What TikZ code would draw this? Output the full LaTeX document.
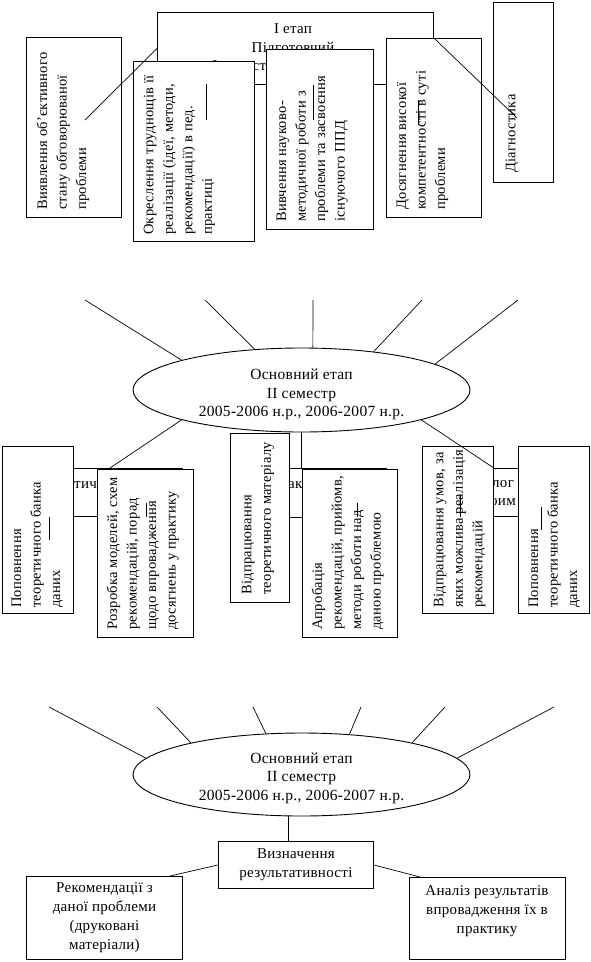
\documentclass[tikz,border=0pt]{standalone}
\usepackage{fontspec}
\setmainfont[LetterSpace=2]{Liberation Serif}
\usetikzlibrary{shapes.geometric,calc}
\newcommand\rotfnt{\fontsize{14.5}{19.5}\selectfont}
\newcommand\horfnt{\fontsize{15}{19}\selectfont}
\newcommand\ovlfnt{\fontsize{15.5}{18.5}\selectfont}
\begin{document}
\begin{tikzpicture}[x=1pt,y=-1pt,
  ln/.style={line width=0.7pt},
  box/.style={draw, fill=white, line width=0.9pt, inner sep=0pt, anchor=north west},
  vt/.style={rotate=90, anchor=north west, align=left, inner sep=0pt, font=\rotfnt},
  ht/.style={align=center, inner sep=0pt, font=\horfnt},
  frag/.style={anchor=west, inner sep=0pt, font=\horfnt},
  oval/.style={draw, ellipse, line width=0.9pt, fill=white, inner sep=0pt, minimum width=337pt, minimum height=84pt},
]
\useasboundingbox (0,0) rectangle (590,962);
\fill[white] (0,0) rectangle (590,962);

%% ---------- top section ----------
\node[box, minimum width=276pt, minimum height=72pt] (big) at (157,12) {};
\node[ht, font=\fontsize{15}{18.5}\selectfont] (bigtxt) at (293,49) {I етап\\Підготовчий\\I семестр 2005-2006 н.р.};

\node[box, minimum width=95pt,  minimum height=180pt] (bA) at (26,37) {};
\node[box, minimum width=121pt, minimum height=180pt] (bB) at (133,61) {};
\node[box, minimum width=107pt, minimum height=180pt] (bC) at (266,49) {};
\node[box, minimum width=95pt,  minimum height=179pt] (bD) at (386,38) {};
\node[box, minimum width=60pt,  minimum height=180pt] (bE) at (493,2) {};

\node[vt] (tA) at (36.5,210) {Виявлення об’єктивного\\стану обговорюваної\\проблеми};
\node[vt] (tB) at (143.5,235) {Окреслення труднощів її\\реалізації (ідеї, методи,\\рекомендації) в пед.\\практиці};
\node[vt] (tC) at (276.5,222) {Вивчення науково-\\методичної роботи з\\проблеми та засвоєння\\існуючого ППД};
\node[vt] (tD) at (396.5,210) {Досягнення високої\\компетентності в суті\\проблеми};
\node[vt] (tE) at (505.5,173) {Діагностика};

\coordinate (s1a) at (206,84); \coordinate (s1b) at (206,120);
\coordinate (s2a) at (313,85); \coordinate (s2b) at (313,120);
\coordinate (s3a) at (418,100); \coordinate (s3b) at (418,125);
\draw[ln] (s1a) -- (s1b);
\draw[ln] (s2a) -- (s2b);
\draw[ln] (s3a) -- (s3b);

\coordinate (pA) at (85,120);
\coordinate (pE) at (517,118);
\draw[ln] (pA) -- (big.west);
\draw[ln] (big.east |- bD.north) -- (pE);

%% ---------- middle section ----------
\node[oval] (e2) at (301.5,390) {};
\node[ht, font=\ovlfnt] (e2txt) at (301.5,394.5) {Основний етап\\II семестр\\2005-2006 н.р., 2006-2007 н.р.};

\coordinate (m1) at (85,300);
\coordinate (m2) at (205,300);
\coordinate (m3) at (313,300);
\coordinate (m4) at (422,300);
\coordinate (m5) at (518,300);
\draw[ln] (m1) -- (e2.166);
\draw[ln] (m2) -- (e2.139);
\draw[ln] (m3) -- (e2.75);
\draw[ln] (m4) -- (e2.28);
\draw[ln] (m5) -- (e2.11);

% partly hidden boxes
\node[box, minimum width=162pt, minimum height=48pt] (hid1) at (20,468) {};
\node[box, minimum width=146pt, minimum height=49pt] (hid2) at (240,468) {};
\node[box, minimum width=130pt, minimum height=48pt] (hid3) at (430,468) {};
\node[frag] (f1) at (74,485) {тич};
\node[frag] (f2) at (288,485) {ак};
\node[frag] (f3) at (492,484) {лог};
\node[frag] (f4) at (490,502) {оим};

% front boxes
\node[box, minimum width=71pt, minimum height=167pt] (pL) at (2,446) {};
\node[box, minimum width=96pt, minimum height=168pt] (rozr) at (97,469) {};
\node[box, minimum width=59pt, minimum height=169pt] (vteor) at (230,433) {};
\node[box, minimum width=95pt, minimum height=168pt] (aprob) at (302,469) {};
\node[box, minimum width=71pt, minimum height=167pt] (vumov) at (422,446) {};
\node[box, minimum width=71pt, minimum height=167pt] (pR) at (518,446) {};

\node[vt] (tpL) at (11.5,608) {Поповнення\\теоретичного банка\\даних};
\node[vt] (trozr) at (106.5,630) {Розробка моделей, схем\\рекомендацій, порад\\щодо впровадження\\досягнень у практику};
\node[vt] (tvteor) at (241.5,595) {Відпрацювання\\теоретичного матеріалу};
\node[vt] (taprob) at (311.5,630) {Апробація\\рекомендацій, прийомв,\\методи роботи над\\даною проблемою};
\node[vt] (tvumov) at (433.5,608) {Відпрацювання умов, за\\яких можлива реалізація\\рекомендацій};
\node[vt] (tpR) at (528.5,608) {Поповнення\\теоретичного банка\\даних};

\coordinate (u1a) at (49,517); \coordinate (u1b) at (49,540);
\coordinate (u2a) at (146,503); \coordinate (u2b) at (146,517);
\coordinate (u3a) at (357,503); \coordinate (u3b) at (357,517);
\coordinate (u4a) at (460,495); \coordinate (u4b) at (460,517);
\coordinate (u5a) at (541,507); \coordinate (u5b) at (541,530);
\draw[ln] (u1a) -- (u1b);
\draw[ln] (u2a) -- (u2b);
\draw[ln] (u3a) -- (u3b);
\draw[ln] (u4a) -- (u4b);
\draw[ln] (u5a) -- (u5b);

\coordinate (c1) at (110,468);
\draw[ln] (e2.194) -- (c1);
\draw[ln] (e2.south) -- (e2.south |- hid2.north);
\draw[ln] (e2.346) -- (vumov.north east |- hid3.north);

%% ---------- bottom section ----------
\node[oval, minimum height=83pt] (e3) at (301.5,774.5) {};
\node[ht, font=\ovlfnt] (e3txt) at (301.5,778) {Основний етап\\II семестр\\2005-2006 н.р., 2006-2007 н.р.};

\coordinate (b1) at (49,707);
\coordinate (b2) at (157,707);
\coordinate (b3) at (253,707);
\coordinate (b4) at (361,707);
\coordinate (b5) at (445,707);
\coordinate (b6) at (554,707);
\draw[ln] (b1) -- (e3.174);
\draw[ln] (b2) -- (e3.164);
\draw[ln] (b3) -- (e3.131);
\draw[ln] (b4) -- (e3.40);
\draw[ln] (b5) -- (e3.16);
\draw[ln] (b6) -- (e3.6);

\node[box, minimum width=155pt, minimum height=47pt, align=center, font=\horfnt] (viz) at (218,841) {Визначення\\результативності};
\node[box, minimum width=156pt, minimum height=83pt, align=center, font=\horfnt] (rek) at (26,876) {Рекомендації з\\даної проблеми\\(друковані\\матеріали)};
\node[box, minimum width=156pt, minimum height=82pt] (anal) at (409,877) {};
\node[ht] (analtxt) at (487,911) {Аналіз результатів\\впровадження їх в\\практику};

\coordinate (c2) at (170,876);
\coordinate (c3) at (420,877);
\draw[ln] (e3.253) -- (e3.253 |- viz.north);
\draw[ln] (viz.west) -- (c2);
\draw[ln] (viz.east) -- (c3);
\end{tikzpicture}
\end{document}
